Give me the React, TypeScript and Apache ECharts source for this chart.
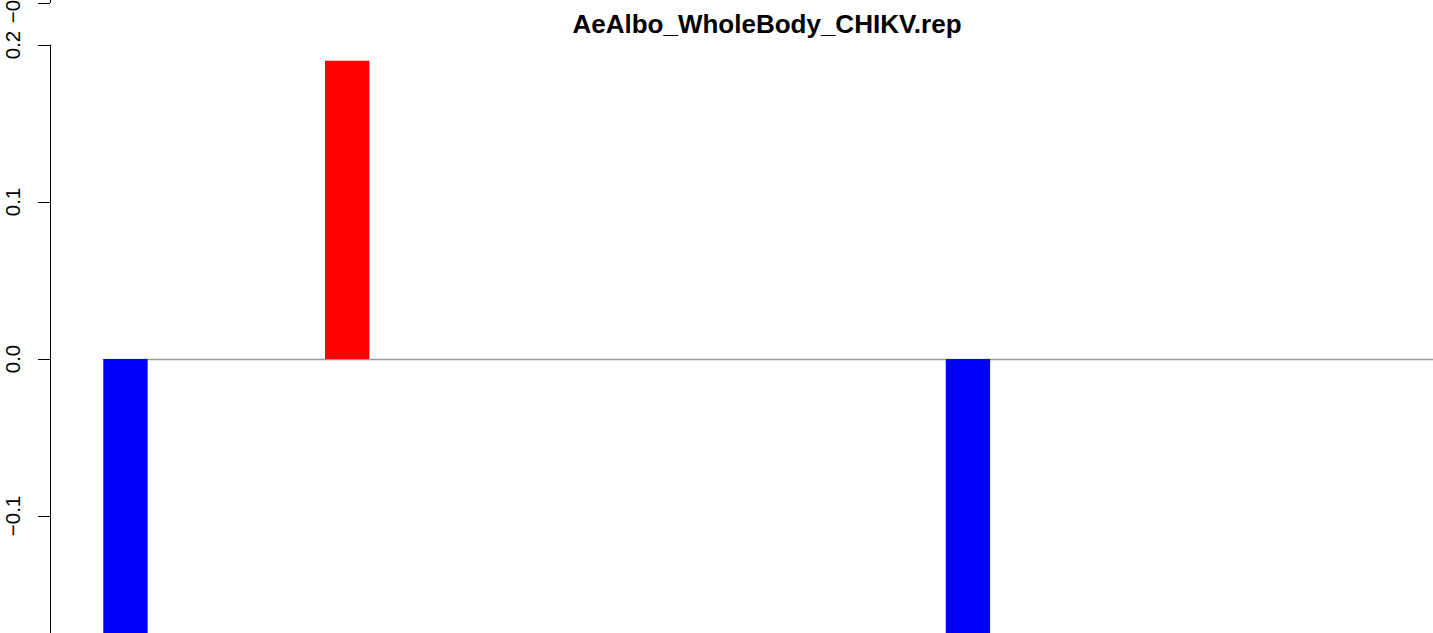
import React, { useEffect, useRef } from "react";
import * as echarts from "echarts";

const titleText = "AeAlbo_WholeBody_CHIKV.rep";

const categories = [
  "1", "2", "3", "4", "5", "6", "7", "8", "9", "10",
  "11", "12", "13", "14", "15", "16", "17", "18", "19", "20",
  "21", "22", "23", "24", "25", "26", "27", "28", "29", "30",
];

const values = [
  -0.22, 0, 0, 0, 0, 0.19, 0, 0, 0, 0,
  0, 0, 0, 0, 0, 0, 0, 0, 0, -0.22,
  0, 0, 0, 0, 0, 0, 0, 0, 0, 0,
];

const yMin = -0.2;
const yMax = 0.2;
const yInterval = 0.1;

// partial axis of the panel above (only its lowest tick is in view)
const upperMin = -0.3;
const upperMax = 0;
const upperVisibleTicks = [-0.2];

const fmt = (v: number) => {
  const r = Math.round(v * 10) / 10;
  return (r < 0 ? "−" : "") + Math.abs(r).toFixed(1);
};

// the chart canvas is shifted up so the panel above can be laid out with positive coordinates
const SHIFT = 400;

export default function App() {
  const ref = useRef<HTMLDivElement>(null);
  useEffect(() => {
    if (!ref.current) return;
    const chart = echarts.init(ref.current, undefined, { renderer: "svg" });
    const font = "Liberation Sans, Arial, Helvetica, sans-serif";
    const labelStyle = {
      rotate: 90,
      margin: 27,
      fontSize: 20.5,
      color: "#000",
      fontFamily: font,
      formatter: fmt,
    };
    chart.setOption({
      animation: false,
      backgroundColor: "#ffffff",
      grid: [
        { left: 103.3, top: 45 + SHIFT, width: 1330.2, height: 628, containLabel: false, outerBoundsMode: "none" },
        { left: 103.3, top: SHIFT + 3 - 314, width: 1330.2, height: 471, containLabel: false, outerBoundsMode: "none" },
      ],
      xAxis: [
        {
          type: "category",
          gridIndex: 0,
          data: categories,
          axisLine: { show: true, onZero: true, lineStyle: { color: "#9a9a9a", width: 1.3 } },
          axisTick: { show: false },
          axisLabel: { show: false },
          splitLine: { show: false },
        },
        {
          type: "category",
          gridIndex: 1,
          data: categories,
          show: false,
        },
      ],
      yAxis: [
        {
          type: "value",
          gridIndex: 0,
          min: yMin,
          max: yMax,
          interval: yInterval,
          offset: 53.3,
          axisLine: { show: true, lineStyle: { color: "#000", width: 1 } },
          axisTick: { show: true, length: 12, lineStyle: { color: "#000", width: 1 } },
          axisLabel: labelStyle,
          splitLine: { show: false },
        },
        {
          type: "value",
          gridIndex: 1,
          min: upperMin,
          max: upperMax,
          interval: yInterval,
          offset: 53.3,
          axisLine: { show: false },
          axisTick: { show: true, length: 12, customValues: upperVisibleTicks, lineStyle: { color: "#000", width: 1 } },
          axisLabel: { ...labelStyle, customValues: upperVisibleTicks },
          splitLine: { show: false },
        },
      ],
      series: [
        {
          type: "bar",
          xAxisIndex: 0,
          yAxisIndex: 0,
          barCategoryGap: "0%",
          clip: true,
          data: values.map((v) => ({
            value: v,
            itemStyle: { color: v < 0 ? "#0000FF" : "#FF0000" },
          })),
        },
        {
          type: "bar",
          xAxisIndex: 1,
          yAxisIndex: 1,
          data: [],
        },
      ],
      graphic: [
        {
          type: "text",
          x: 767,
          y: 24 + SHIFT,
          style: {
            text: titleText,
            font: "bold 26px " + font,
            fill: "#000",
            align: "center",
            verticalAlign: "middle",
          },
        },
        {
          type: "line",
          shape: { x1: 50.5, y1: SHIFT - 60, x2: 50.5, y2: SHIFT + 3 },
          style: { stroke: "#000", lineWidth: 1 },
        },
      ],
    });
    return () => chart.dispose();
  }, []);
  return (
    <div style={{ position: "fixed", left: 0, top: 0, width: 1433, height: 633, overflow: "hidden", background: "#fff" }}>
      <div ref={ref} style={{ position: "absolute", left: 0, top: -SHIFT, width: 1433, height: 633 + SHIFT + 70 }} />
    </div>
  );
}
